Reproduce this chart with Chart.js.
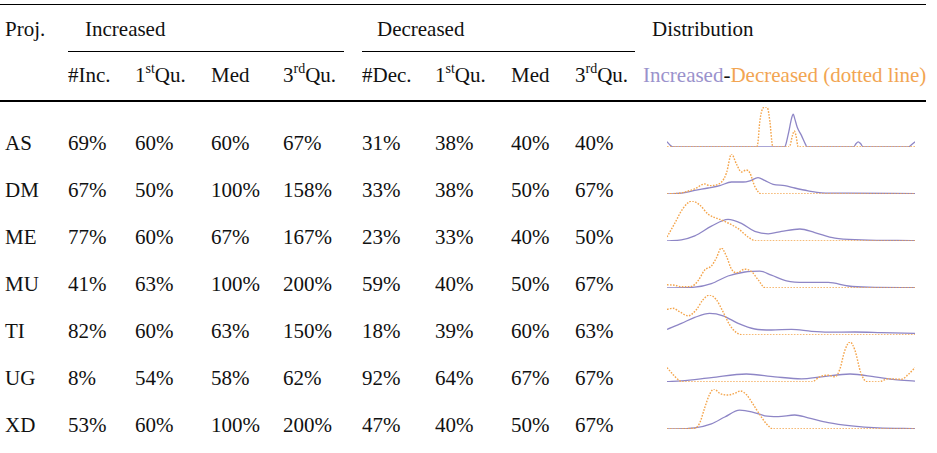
<!DOCTYPE html>
<html>
<head>
<meta charset="utf-8">
<script src="https://cdn.jsdelivr.net/npm/chart.js@4.4.1/dist/chart.umd.min.js"></script>
<style>
  html, body { margin: 0; padding: 0; background: #fff; }
  body { width: 937px; height: 453px; position: relative; overflow: hidden; color: #111; }
  .t, .t * { font-family: "Liberation Serif", "Times New Roman", serif; }
  .t { position: absolute; white-space: nowrap; line-height: 21px; font-size: 21px; }
  .rule { position: absolute; background: #000; }
  sup { font-size: 14px; line-height: 0; position: relative; top: -1px; vertical-align: super; }
  .spark { position: absolute; }
  .inc { color: #9a92cc; }
  .dec { color: #f2a552; }
</style>
</head>
<body>
<div id="table"></div>
<script>
// Projects and per-project statistics (percentages)
const projects = ['AS', 'DM', 'ME', 'MU', 'TI', 'UG', 'XD'];
const incShare = [69, 67, 77, 41, 82, 8, 53];
const incQ1    = [60, 50, 60, 63, 60, 54, 60];
const incMed   = [60, 100, 67, 100, 63, 58, 100];
const incQ3    = [67, 158, 167, 200, 150, 62, 200];
const decShare = [31, 33, 23, 59, 18, 92, 47];
const decQ1    = [38, 38, 33, 40, 39, 64, 40];
const decMed   = [40, 50, 40, 50, 60, 67, 50];
const decQ3    = [40, 67, 50, 67, 63, 67, 67];

// Density curves, [position, relative density]
const asInc = [[0,13],[1.2,5],[2.4,0],[47.3,0],[47.8,4],[49.1,38],[50.2,71],[50.9,82],[51.5,71],[52.6,48],[54.2,29],[55.9,6],[56.5,0],[75.2,0],[76.2,8],[77.1,13],[78.1,8],[79.1,0],[97.3,0],[98.7,6],[100,13]];
const asDec = [[0,0],[36.2,0],[36.7,13],[37.4,63],[38.8,98],[39.7,100],[40.5,98],[41.5,63],[42.5,4],[43,0],[49.3,0],[50.6,29],[51.3,40],[52,29],[52.9,0],[100,0]];
const dmInc = [[0,0],[5.8,2],[11.2,9],[16.6,15],[21.3,21],[26,30],[30.7,30],[33.4,33],[36.7,41],[39.4,34],[42.8,24],[47.5,21],[51.5,15],[56.9,8],[62.3,3],[73.1,2],[100,1]];
const dmDec = [[0,0],[5.8,3],[11.2,13],[15.2,25],[17.2,21],[22,30],[24,53],[26,100],[28,75],[30,55],[32,60],[33.4,53],[35.4,19],[38.1,0],[100,0]];
const meInc = [[0,0],[5.8,3],[11.2,13],[17.9,37],[24.6,54],[30,44],[35.4,24],[40.8,18],[46.2,24],[53.6,30],[59.6,21],[67.7,7],[78.5,3],[100,1]];
const meDec = [[0,10],[3.1,44],[6.5,82],[10.1,100],[13.2,90],[16.6,67],[21.3,54],[24.6,45],[28.7,31],[32.7,10],[36.1,0],[100,0]];
const muInc = [[0,0],[11.2,2],[17.9,11],[24.6,30],[31.4,40],[37.4,42],[42.1,32],[48.2,18],[55.6,14],[65,14],[73.1,5],[81.2,2],[100,1]];
const muDec = [[0,8],[3.1,7],[5.8,3],[9.8,4],[12.5,18],[15.2,45],[17.9,55],[19.9,75],[21.9,100],[24,79],[26,47],[28,38],[31.4,47],[34.1,41],[36.7,21],[39.7,0],[100,0]];
const tiInc = [[0,14],[5.8,29],[11.2,44],[17.2,54],[22.6,48],[28.7,29],[35.4,15],[42.1,12.5],[50.2,14],[58.3,9],[65,7],[75.8,7.5],[86.5,6],[100,4]];
const tiDec = [[0,64],[2.4,67],[5.1,58],[8.5,48],[11.8,63],[14.5,88],[17.2,100],[19.9,88],[22.6,58],[25.3,25],[28,6],[30.7,0],[100,0]];
const ugInc = [[0,1],[5.8,3],[17.9,11],[32,20],[43.5,13],[54.2,8],[62.3,13],[73.8,20],[83.8,13],[91.9,6],[100,2]];
const ugDec = [[0,36],[2.4,19],[5.1,3],[7.1,0],[58.3,0],[61.6,13],[65,17],[67.7,13],[69.7,32],[71.7,79],[73.8,100],[75.8,79],[78.1,24],[80.5,1],[85.2,0],[89.2,8],[94.6,7],[97.3,19],[100,36]];
const xdInc = [[0,0],[11.2,3],[17.9,13],[23.3,30],[29.3,47],[34.1,43],[39.4,33],[44.8,31],[51.5,35],[56.9,28],[65,16],[74.4,8],[85.2,3],[100,1]];
const xdDec = [[0,0],[11.2,2],[13.2,15],[15.2,53],[17.2,87],[19,100],[21.3,89],[24.6,85],[27.3,89],[29.6,95],[32,86],[34.7,62],[37.4,36],[40.1,13],[42.8,0],[100,0]];

const densities = [[asInc, asDec], [dmInc, dmDec], [meInc, meDec], [muInc, muDec],
                   [tiInc, tiDec], [ugInc, ugDec], [xdInc, xdDec]];

const INC_COLOR = '#8e86c6';
const DEC_COLOR = '#f4a54c';

const root = document.getElementById('table');

function text(html, left, top, cls) {
  const el = document.createElement('div');
  el.className = 't' + (cls ? ' ' + cls : '');
  el.style.left = left + 'px';
  el.style.top = top + 'px';
  el.innerHTML = html;
  root.appendChild(el);
}
function rule(left, top, width, height) {
  const el = document.createElement('div');
  el.className = 'rule';
  Object.assign(el.style, { left: left + 'px', top: top + 'px', width: width + 'px', height: height + 'px' });
  root.appendChild(el);
}

// booktabs-style rules
rule(0, 4, 926, 1);
rule(68, 51, 276, 1);
rule(362, 51, 273, 1);
rule(0, 100, 926, 2);

// header rows
text('Proj.', 5, 19);
text('Increased', 85, 19);
text('Decreased', 377, 19);
text('Distribution', 652, 19);

const colX = [68, 135, 211, 283, 362, 435, 511, 575];
const sub = ['#Inc.', '1<sup>st</sup>Qu.', 'Med', '3<sup>rd</sup>Qu.',
             '#Dec.', '1<sup>st</sup>Qu.', 'Med', '3<sup>rd</sup>Qu.'];
sub.forEach((s, i) => text(s, colX[i], 65));
text('<span class="inc">Increased</span>-<span class="dec">Decreased (dotted line)</span>', 643, 65);

// body rows
const rowTop0 = 133, rowStep = 47;
projects.forEach((p, r) => {
  const top = rowTop0 + r * rowStep;
  text(p, 5, top);
  const vals = [incShare[r], incQ1[r], incMed[r], incQ3[r], decShare[r], decQ1[r], decMed[r], decQ3[r]];
  vals.forEach((v, i) => text(v + '%', colX[i], top));
});

// density sparklines, one small chart per project
const baseline0 = 147;
const PAD = 3;
densities.forEach(([inc, dec], r) => {
  const base = baseline0 + r * rowStep;
  const wrap = document.createElement('div');
  wrap.className = 'spark';
  wrap.style.left = (667 - PAD) + 'px';
  wrap.style.top = (base - 40 - PAD) + 'px';
  const cv = document.createElement('canvas');
  cv.width = 248 + 2 * PAD;
  cv.height = 40 + 2 * PAD;
  wrap.appendChild(cv);
  root.appendChild(wrap);
  const toXY = a => a.map(([x, y]) => ({ x, y }));
  new Chart(cv, {
    type: 'line',
    data: {
      datasets: [
        { label: 'Decreased', data: toXY(dec), borderColor: DEC_COLOR, borderWidth: 1.4,
          borderDash: [1.6, 1.4], pointRadius: 0, cubicInterpolationMode: 'monotone', fill: false },
        { label: 'Increased', data: toXY(inc), borderColor: INC_COLOR, borderWidth: 1.3,
          pointRadius: 0, cubicInterpolationMode: 'monotone', fill: false }
      ]
    },
    options: {
      responsive: false,
      animation: false,
      devicePixelRatio: 1,
      layout: { padding: PAD },
      plugins: { legend: { display: false }, tooltip: { enabled: false } },
      scales: {
        x: { type: 'linear', min: 0, max: 100, display: false },
        y: { min: 0, max: 100, display: false }
      }
    }
  });
});
</script>
</body>
</html>
